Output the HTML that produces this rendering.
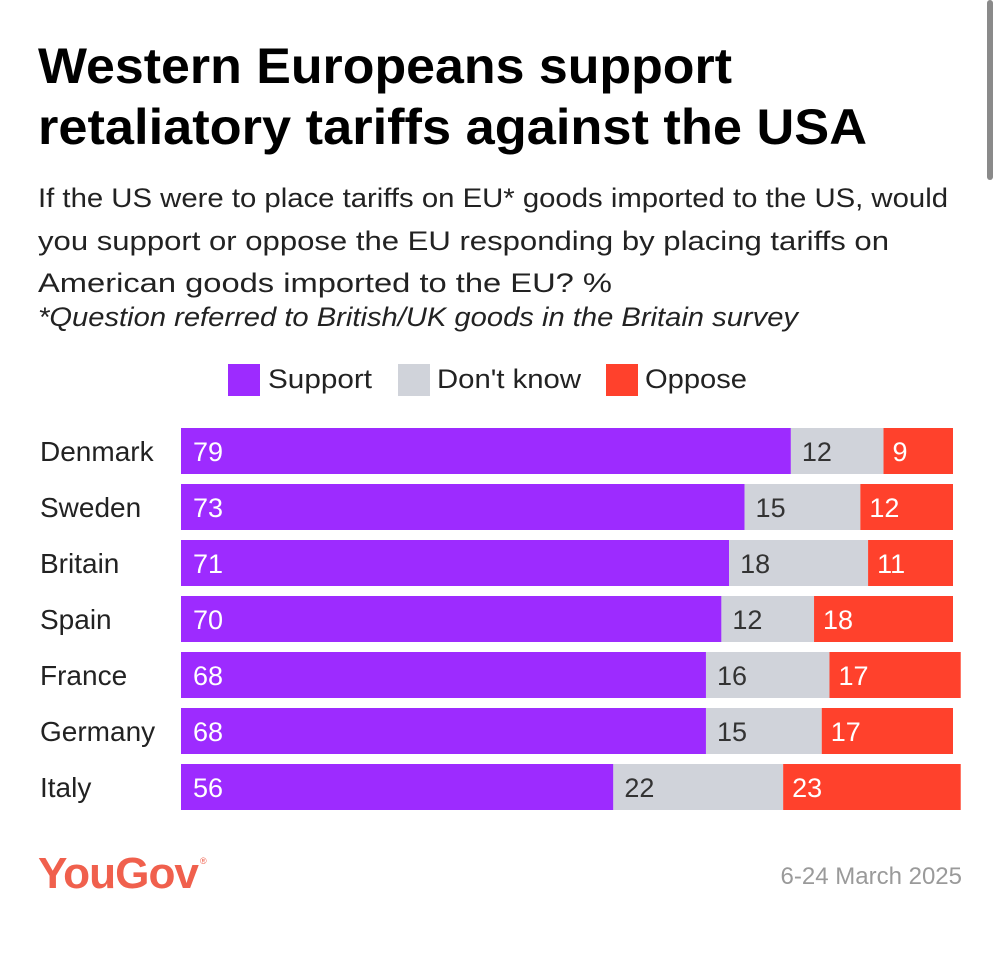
<!DOCTYPE html>
<html><head><meta charset="utf-8"><style>
html,body{margin:0;padding:0;background:#fff;}
svg{display:block;font-family:"Liberation Sans",sans-serif;}
</style></head><body>
<svg id="chart" width="1000" height="953" viewBox="0 0 1000 953">
<rect x="987" y="0" width="6" height="180" rx="3" fill="#8a8a8a"/>
<text x="38" y="83" font-size="50" font-weight="bold" fill="#000" textLength="694" lengthAdjust="spacingAndGlyphs">Western Europeans support</text>
<text x="38" y="144" font-size="50" font-weight="bold" fill="#000" textLength="829" lengthAdjust="spacingAndGlyphs">retaliatory tariffs against the USA</text>
<g font-size="27" fill="#222">
<text x="38" y="207" textLength="910" lengthAdjust="spacingAndGlyphs">If the US were to place tariffs on EU* goods imported to the US, would</text>
<text x="38" y="250" textLength="851" lengthAdjust="spacingAndGlyphs">you support or oppose the EU responding by placing tariffs on</text>
<text x="38" y="292" textLength="574" lengthAdjust="spacingAndGlyphs">American goods imported to the EU? %</text>
<text x="38" y="326" font-style="italic" textLength="760" lengthAdjust="spacingAndGlyphs">*Question referred to British/UK goods in the Britain survey</text>
</g>
<g font-size="27" fill="#222">
<rect x="228" y="364" width="32" height="32" fill="#9d2bff"/>
<text x="268" y="388" textLength="104" lengthAdjust="spacingAndGlyphs">Support</text>
<rect x="398" y="364" width="32" height="32" fill="#d0d3da"/>
<text x="437" y="388" textLength="144" lengthAdjust="spacingAndGlyphs">Don't know</text>
<rect x="606" y="364" width="32" height="32" fill="#ff412c"/>
<text x="645" y="388" textLength="102" lengthAdjust="spacingAndGlyphs">Oppose</text>
</g>
<g id="bars"></g>
<text x="38" y="888" font-size="44" font-weight="bold" fill="#f0604d" letter-spacing="-1" textLength="160" lengthAdjust="spacingAndGlyphs">YouGov</text>
<text x="200" y="864" font-size="9" fill="#f0604d">®</text>
<text x="962" y="884" font-size="24" fill="#9a9a9a" text-anchor="end">6-24 March 2025</text>
</svg>
<script>
const countries = ["Denmark","Sweden","Britain","Spain","France","Germany","Italy"];
const support = [79,73,71,70,68,68,56];
const dontKnow = [12,15,18,12,16,15,22];
const oppose = [9,12,11,18,17,17,23];
const NS = "http://www.w3.org/2000/svg";
const x0 = 181, pxPer = 7.72, rowTop = 428, rowStep = 56, barH = 46;
const xs = v => v * pxPer;
const g = document.getElementById("bars");
function mk(tag, attrs){const e=document.createElementNS(NS,tag);for(const k in attrs)e.setAttribute(k,attrs[k]);return e;}
countries.forEach((c,i)=>{
  const y = rowTop + i*rowStep;
  const lab = mk("text",{x:40,y:y+barH/2+10,"font-size":28,fill:"#222"});
  
  
  lab.textContent = c; g.appendChild(lab);
  const segs = [[support[i],"#9d2bff","#fff","support"],[dontKnow[i],"#d0d3da","#333","dontknow"],[oppose[i],"#ff412c","#fff","oppose"]];
  let x = x0;
  segs.forEach(([v,fill,tc,nm])=>{
    const r = mk("rect",{x:x,y:y,width:xs(v),height:barH,fill:fill});
    
    
    g.appendChild(r);
    const t = mk("text",{x:x+(nm==="support"?12:nm==="dontknow"?11:9),y:y+barH/2+10,"font-size":27,fill:tc});
    
    
    t.textContent = v; g.appendChild(t);
    x += xs(v);
  });
});
</script>
</body></html>
